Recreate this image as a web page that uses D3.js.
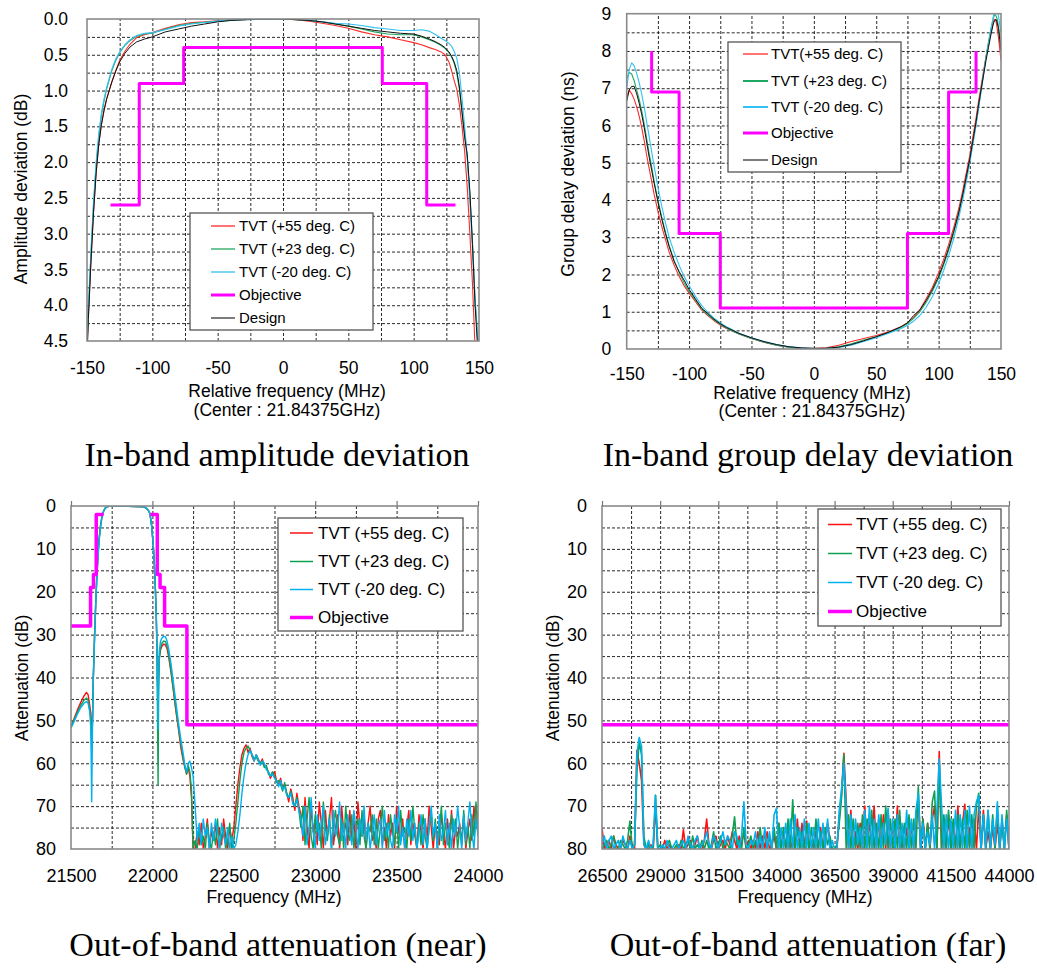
<!DOCTYPE html>
<html>
<head>
<meta charset="utf-8">
<script src="https://cdn.jsdelivr.net/npm/d3@7"></script>
<style>
  body { margin: 0; background: #fff; }
  svg { display: block; }
</style>
</head>
<body>
<svg id="fig" width="1037" height="968"></svg>
<script>
// ---------- In-band amplitude deviation (dB), relative frequency in MHz ----------
const ampFreq = [-150,-149,-147,-145,-143,-141,-139,-137,-135,-133,
  -131,-128,-125,-121,-117,-112,-106,-100,-90,-80,
  -70,-60,-50,-40,-30,-20,-10,0,10,20,
  30,40,50,60,70,80,90,100,106,112,
  117,121,124,127,129,131,133,135,137,139,
  141,143,145,147,149,150];
const amp55 = [4.7,4.2,3.4,2.7,2.15,1.75,1.48,1.28,1.12,1.0,
  0.88,0.72,0.58,0.45,0.35,0.26,0.22,0.19,0.13,0.08,
  0.05,0.04,0.025,0.015,0.01,0.0,0.0,0.0,0.01,0.03,
  0.06,0.09,0.13,0.18,0.22,0.25,0.29,0.33,0.36,0.4,
  0.43,0.46,0.5,0.6,0.72,0.86,0.98,1.2,1.5,1.85,
  2.35,3.0,3.7,4.6,5.5,5.8];
const amp23 = [4.6,4.1,3.3,2.6,2.05,1.65,1.35,1.15,0.98,0.85,
  0.72,0.58,0.47,0.37,0.3,0.24,0.21,0.2,0.14,0.09,
  0.06,0.045,0.03,0.02,0.01,0.005,0.0,0.0,0.01,0.02,
  0.04,0.07,0.1,0.14,0.18,0.21,0.22,0.22,0.25,0.29,
  0.33,0.37,0.41,0.47,0.53,0.62,0.76,0.98,1.3,1.6,
  1.95,2.45,3.1,3.9,4.45,4.8];
const amp20 = [4.6,4.05,3.25,2.55,2.0,1.6,1.32,1.12,0.96,0.83,
  0.7,0.56,0.46,0.36,0.29,0.23,0.2,0.19,0.15,0.1,
  0.07,0.05,0.03,0.015,0.01,0.005,0.0,0.0,0.0,0.02,
  0.04,0.06,0.07,0.09,0.12,0.14,0.16,0.16,0.15,0.17,
  0.22,0.27,0.3,0.34,0.38,0.45,0.55,0.75,1.1,1.5,
  1.9,2.55,3.2,3.95,4.5,4.8];
const ampDesign = [4.7,4.2,3.4,2.7,2.15,1.75,1.48,1.28,1.12,1.0,
  0.88,0.73,0.6,0.48,0.39,0.32,0.28,0.25,0.18,0.14,
  0.1,0.07,0.04,0.02,0.01,0.0,0.0,0.0,0.01,0.02,
  0.04,0.07,0.1,0.13,0.16,0.18,0.2,0.21,0.24,0.28,
  0.32,0.36,0.4,0.46,0.52,0.6,0.72,0.95,1.3,1.65,
  1.9,2.4,3.15,4.0,4.6,5.0];
const ampObjFreq = [-132,-110,-110,-76,-76,76,76,110,110,132];
const ampObjVal  = [2.6,2.6,0.9,0.9,0.4,0.4,0.9,0.9,2.6,2.6];

// ---------- In-band group delay deviation (ns) ----------
const gdFreq = [-150,-148,-146,-144,-142,-140,-138,-136,-134,-132,
  -130,-128,-125,-122,-119,-116,-112,-108,-104,-100,
  -95,-90,-85,-80,-75,-70,-60,-50,-40,-30,
  -20,-10,0,10,20,30,40,50,60,70,
  75,80,85,90,95,100,104,108,112,116,
  119,122,125,128,130,132,134,136,138,140,
  142,144,145,146,147,148,149,150];
const gd55 = [6.75,6.95,6.85,6.7,6.5,6.25,5.95,5.6,5.2,4.85,
  4.5,4.15,3.7,3.3,2.95,2.6,2.25,1.95,1.7,1.5,
  1.28,1.05,0.9,0.76,0.64,0.55,0.4,0.28,0.18,0.1,
  0.05,0.02,0.01,0.03,0.1,0.2,0.28,0.36,0.46,0.6,
  0.7,0.85,1.05,1.35,1.65,2.05,2.4,2.8,3.25,3.75,
  4.2,4.7,5.2,5.8,6.2,6.65,7.05,7.45,7.85,8.2,
  8.5,8.8,8.85,8.8,8.6,8.35,8.05,7.75];
const gd23 = [7.25,7.42,7.38,7.2,6.95,6.7,6.4,6.05,5.65,5.25,
  4.9,4.5,4.0,3.55,3.15,2.78,2.38,2.05,1.78,1.55,
  1.32,1.08,0.92,0.78,0.66,0.56,0.4,0.28,0.18,0.1,
  0.05,0.02,0.01,0.02,0.06,0.14,0.24,0.33,0.44,0.58,
  0.68,0.82,1.0,1.25,1.55,1.9,2.25,2.65,3.1,3.6,
  4.05,4.55,5.05,5.65,6.05,6.5,6.95,7.4,7.85,8.25,
  8.6,8.9,8.98,8.95,8.85,8.65,8.4,8.1];
const gd20 = [7.0,7.5,7.68,7.6,7.4,7.15,6.85,6.5,6.1,5.7,
  5.3,4.9,4.35,3.85,3.4,3.0,2.6,2.25,1.95,1.7,
  1.42,1.17,0.98,0.83,0.7,0.6,0.42,0.3,0.2,0.12,
  0.06,0.03,0.01,0.01,0.04,0.1,0.2,0.3,0.42,0.55,
  0.63,0.75,0.9,1.12,1.4,1.75,2.1,2.5,2.95,3.5,
  3.95,4.45,5.0,5.6,6.0,6.45,6.9,7.35,7.8,8.2,
  8.6,8.95,9.1,9.15,9.1,8.95,8.7,8.5];
const gdDesign = [6.65,6.95,7.05,7.05,6.85,6.6,6.3,5.95,5.55,5.15,
  4.8,4.45,3.95,3.5,3.1,2.75,2.35,2.08,1.85,1.6,
  1.35,1.1,0.95,0.8,0.68,0.58,0.42,0.3,0.2,0.12,
  0.06,0.03,0.02,0.02,0.05,0.12,0.22,0.33,0.45,0.6,
  0.7,0.9,1.05,1.3,1.6,1.95,2.3,2.7,3.15,3.65,
  4.1,4.6,5.1,5.7,6.1,6.55,6.95,7.35,7.75,8.1,
  8.45,8.75,8.82,8.85,8.75,8.6,8.3,8.0];
const gdObjFreq = [-130,-130,-108,-108,-75,-75,75,75,108,108,130,130];
const gdObjVal  = [8,6.9,6.9,3.1,3.1,1.1,1.1,3.1,3.1,6.9,6.9,8];

// ---------- Out-of-band attenuation, near band (dB vs MHz) ----------
const nearFreq = [21500,21520,21540,21560,21580,21595,21605,21615,21622,21627,
  21632,21637,21645,21652,21658,21665,21672,21680,21690,21700,
  21710,21720,21740,21800,21900,21950,21965,21975,21985,21995,
  22005,22012,22018,22024,22028,22032,22035,22038,22042,22050,
  22060,22070,22080,22090,22100,22115,22130,22145,22160,22175,
  22190,22200,22210,22220,22230,22240];
const near55 = [51.5,49.5,47.5,45.8,44.3,43.5,44.0,46.5,48.5,55.0,
  50.0,40.0,30.0,22.5,17.0,12.0,8.0,5.0,2.5,1.2,
  0.5,0.2,0.0,0.0,0.1,0.2,0.6,1.0,1.8,4.5,
  9.0,13.5,19.0,26.0,32.0,42.0,44.0,39.0,35.5,33.5,
  32.6,32.2,32.4,33.3,35.2,39.0,43.5,48.0,52.0,56.5,
  59.5,61.0,62.5,61.0,63.0,68.0];
const near23 = [51.5,49.8,48.0,46.5,45.3,44.8,45.3,47.5,49.5,57.0,
  50.0,40.0,30.0,22.5,17.0,12.0,8.0,5.0,2.5,1.2,
  0.5,0.2,0.0,0.0,0.1,0.2,0.6,1.0,1.8,4.5,
  9.0,13.5,19.0,26.0,34.0,52.0,65.0,45.0,36.0,33.0,
  31.9,31.5,31.6,32.6,34.5,38.5,43.0,47.5,51.5,55.5,
  59.0,61.0,62.5,60.5,62.0,66.0];
const near20 = [51.8,50.2,48.5,47.0,46.0,45.6,46.0,48.0,52.0,69.0,
  52.0,41.0,30.5,23.0,17.5,12.5,8.5,5.3,2.7,1.3,
  0.5,0.2,0.0,0.0,0.1,0.2,0.6,1.0,1.8,4.5,
  9.0,13.5,19.0,26.0,33.0,44.0,52.0,40.0,34.0,31.5,
  30.7,30.4,30.5,31.5,33.3,37.0,41.5,46.0,50.5,54.5,
  58.0,60.5,62.0,60.0,59.5,61.0];
// sampled trace above 22250 MHz, one value every 12.5 MHz
const nearTailStart = 22250, nearTailStep = 12.5;
const nearTail55 = [80,80,76,79,74,80,77,73,80,76,78,74,80,75,79,73,77,80,75,78,
  75,70,65,61,58,56.5,55.7,
  57.5,56.5,58.5,59.5,58,59,60,59,60.5,61,62,63.5,62.5,62,64,65,63.5,66,65,67,69,66,68,71,67,70,
  72,78,68,75,80,70,76,73,79,69, 74,80,71,77,73,68,79,75,72,80,
  70,76,74,79,71,78,73,80,69,75, 77,72,80,74,70,78,76,80,73,71,
  79,75,80,72,77,74,80,70,76,78, 73,80,75,71,79,74,77,80,72,76,
  80,73,78,70,75,80,74,77,79,72, 76,80,73,78,71,80,75,77,74,79,
  72,80,76,73,78,70,75,71];
const nearTail23 = [80,78,80,75,79,77,80,74,78,80,76,79,73,80,77,75,80,78,74,80,
  78,74,69,64,60,57.5,56.5,
  56,57,58,59,58.5,59.5,60,59.5,61,60.5,62.5,63,62,63,64.5,64,65,66.5,64.5,67,68,66.5,69,70,68,71,
  75,70,79,73,68,77,80,72,76,74, 80,69,75,78,72,80,74,71,77,79,
  73,80,70,76,78,72,80,75,73,79, 71,77,80,74,76,72,79,73,80,75,
  70,78,74,80,72,76,79,73,80,71, 77,75,80,73,78,70,76,80,74,79,
  72,77,80,75,71,78,73,80,76,70, 79,74,77,80,72,76,73,80,75,78,
  71,79,74,80,72,77,69,76];
const nearTail20 = [63,70,78,74,79,73,77,75,80,74,78,73,76,80,74,77,79,75,80,77,
  80,79,76,72,67,63,60,
  58,57,58,59.5,58,59,60.5,59.5,60,61.5,62,63,62.5,63.5,64,65.5,64,66,65.5,67.5,68,67,69.5,70,68.5,71,
  73,77,70,79,75,68,76,80,72,78, 74,70,79,76,73,80,71,77,75,69,
  78,74,80,72,76,79,71,75,80,73, 77,70,78,74,80,76,72,79,75,73,
  80,71,77,74,78,80,72,76,70,79, 75,80,73,77,71,78,74,80,76,72,
  79,73,80,75,70,77,74,80,72,78, 76,71,79,74,80,73,77,70,75,80,
  72,78,74,69,76,80,73,77];
const nearObjLow  = [[21500,28],[21620,28],[21620,19],[21638,19],[21638,16],[21655,16],[21655,2],[21700,2]];
const nearObjHigh = [[21988,2],[22030,2],[22030,16],[22047,16],[22047,19],[22075,19],[22075,28],
  [22212,28],[22212,51],[24000,51]];

// ---------- Out-of-band attenuation, far band (one value every 100 MHz) ----------
const farStart = 26500, farStep = 100;
const far20 = [79,77,80,78,77,80,79,78,80,77, 79,80,78,80,79, 58,54,56,79, 80,78,80,79, 67.5,80,
  80,79,80,78,80,80,79,78,80,79, 78,80,77,79,80,78,77,80,79,78,
  76,79,80,77,78,80,78,76,79,77, 78,80,76,77,80,77,69,79,80,78,
  79,76,80,77,80,75,80,76,80,72, 70.5,80,75,80,74,80,73,80,72,80,
  75,80,73,80,74,80,75,80,73,80, 74,80,73,80,78,80,80,71,66,60,
  70,80,72,80,73,79,75,80,71,80, 70,80,73,80,72,80,74,79,70.5,80,
  73,80,72,80,74,80,71,80,73,80, 71,67,80,74,80,76,79,72,80,71,
  59,70,80,72,80,73,80,71,80,72, 80,71,80,70,80,72,69,67.5,80,72,
  80,71,80,73,79,69,80,72,80,73,80];
const far23 = [80,79,78,80,79,77,80,80,78,79, 80,78,73.5,80,79, 62,55,58,77, 80,79,80,80, 67.5,80,
  79,80,80,79,78,80,80,79,80,78, 80,79,78,80,77,80,79,80,78,80,
  78,80,79,76,80,79,77,80,78,79, 80,77,72.5,79,78,80,75,80,79,77,
  80,78,80,75,80,76,80,77,80,75, 80,74,80,75,80,73,80,68.5,80,75,
  80,76,80,74,80,75,80,73,80,76, 80,75,79,77,80,80,79,74,68,58,
  80,72,80,73,80,74,80,72,80,73, 80,71,80,74,80,72,80,70,80,73,
  80,73,80,71,80,74,80,72,80,73, 80,65.5,80,73,80,74,80,69,66.5,80,
  60,80,72,80,71,80,73,80,72,80, 73,80,71,80,72,80,70,67,80,72,
  80,71,80,72,80,70,80,74,80,71,80];
const far55 = [75,80,79,78,80,77,79,80,80,78, 79,80,77,79,80, 57,60,64,79, 80,80,79,80, 70,80,
  80,80,78,80,79,80,80,80,79,80, 75.5,80,79,78,80,79,77,80,80,78,
  73,79,80,78,77,80,79,78,80,77, 79,76,78,80,77,79,76,80,78,80,
  78,80,76,80,77,80,76,80,79,77, 80,74,80,76,80,75,80,78,80,73,
  80,74,80,73.5,80,78,80,76,80,75, 80,79,74,78,80,80,80,73,67,57.7,
  69,80,71,80,76,80,74,80,70,80, 73,80,70,80,73,80,72,80,71,80,
  74,80,70,80,77,80,75,80,74,80, 72,68.5,80,73,80,74,80,73,70,80,
  57.3,80,73,80,72,80,74,80,70,80, 74,69.6,80,75,80,73,80,70,80,71,
  80,76,80,75,80,74,80,73,80,72,80];
const farObj = [[26500,51],[44000,51]];

// ---------- tick values ----------
const ampTicks  = [-150,-100,-50,0,50,100,150];
const ampYTicks = [0,0.5,1,1.5,2,2.5,3,3.5,4,4.5];
const gdYTicks  = [0,1,2,3,4,5,6,7,8,9];
const nearTicks = [21500,22000,22500,23000,23500,24000];
const farTicks  = [26500,29000,31500,34000,36500,39000,41500,44000];
const attTicks  = [0,10,20,30,40,50,60,70,80];

// ---------- drawing ----------
const SANS = "Arial, 'Liberation Sans', sans-serif";
const SERIF = "'Times New Roman', 'Liberation Serif', serif";
const svg = d3.select("#fig");
svg.append("rect").attr("width", 1037).attr("height", 968).attr("fill", "#fff");

const COL_TOP = { r: "#ff2a2a", g: "#1fa862", c: "#33c0f2", k: "#111", m: "#ff00ff" };
const COL_BOT = { r: "#ff1010", g: "#0ca050", c: "#00b0f0", m: "#ff00ff" };

const plainInt = d => String(d);   // hyphen-minus, as printed on the axes

function zip(xs, ys) { return xs.map((v, i) => [v, ys[i]]); }
function sampled(start, step, ys) { return ys.map((v, i) => [start + i * step, v]); }

let clipId = 0;
function panel(p) {
  const b = p.box;
  const x = d3.scaleLinear().domain(p.xDomain).range([b.left, b.right]);
  const y = d3.scaleLinear().domain(p.yDomain).range([b.top, b.bottom]);
  const w = b.right - b.left, h = b.bottom - b.top;
  const g = svg.append("g");

  // dashed grid
  const vg = g.append("g").attr("transform", `translate(0,${b.bottom})`)
    .call(d3.axisBottom(x).tickValues(p.xGrid).tickSize(-h).tickFormat(""));
  vg.select(".domain").remove();
  const hg = g.append("g").attr("transform", `translate(${b.left},0)`)
    .call(d3.axisLeft(y).tickValues(p.yGrid).tickSize(-w).tickFormat(""));
  hg.select(".domain").remove();
  g.selectAll(".tick line").attr("stroke", "#111").attr("stroke-width", 0.9)
    .attr("stroke-dasharray", "3,2");

  // data
  const id = "clip" + (clipId++);
  g.append("clipPath").attr("id", id).append("rect")
    .attr("x", b.left).attr("y", b.top).attr("width", w).attr("height", h);
  const data = g.append("g").attr("clip-path", `url(#${id})`);
  const line = d3.line().x(d => x(d[0])).y(d => y(d[1]));
  p.series.forEach(s => {
    (s.parts || [s.pts]).forEach(pts => {
      data.append("path").attr("d", line(pts)).attr("fill", "none")
        .attr("stroke", s.color).attr("stroke-width", s.width)
        .attr("stroke-linejoin", "round");
    });
  });

  // frame
  g.append("rect").attr("x", b.left).attr("y", b.top).attr("width", w).attr("height", h)
    .attr("fill", "none").attr("stroke", "#8a8a8a").attr("stroke-width", 1.6);

  if (p.topTicks) {
    const tt = g.append("g").attr("transform", `translate(0,${b.top})`)
      .call(d3.axisTop(x).tickValues(p.xTicks).tickSize(5).tickFormat(""));
    tt.select(".domain").remove();
    tt.selectAll("line").attr("stroke", "#777").attr("stroke-width", 1.2);
  }

  // tick labels
  const xa = g.append("g").attr("transform", `translate(0,${b.bottom})`)
    .call(d3.axisBottom(x).tickValues(p.xTicks).tickSize(0).tickFormat(plainInt));
  xa.select(".domain").remove();
  xa.selectAll("text").attr("y", p.xLabelOffset).attr("dy", 0)
    .attr("font-size", p.tickFont).attr("font-family", SANS).attr("fill", "#000");

  const ya = g.append("g").attr("transform", `translate(${b.left},0)`)
    .call(d3.axisLeft(y).tickValues(p.yTicks).tickSize(0).tickPadding(p.yPad).tickFormat(p.yFormat));
  ya.select(".domain").remove();
  ya.selectAll("text").attr("font-size", p.tickFont).attr("font-family", SANS).attr("fill", "#000");

  // axis titles
  p.xTitle.forEach(t => {
    g.append("text").attr("x", t.x).attr("y", t.y).attr("text-anchor", "middle")
      .attr("font-family", SANS).attr("font-size", t.size).text(t.text);
  });
  g.append("text").attr("transform", `translate(${p.yTitle.x},${p.yTitle.y}) rotate(-90)`)
    .attr("text-anchor", "middle").attr("dy", "0.35em")
    .attr("font-family", SANS).attr("font-size", p.yTitle.size).text(p.yTitle.text);

  // legend
  const L = p.legend;
  const lg = g.append("g");
  lg.append("rect").attr("x", L.x0).attr("y", L.y0).attr("width", L.x1 - L.x0).attr("height", L.y1 - L.y0)
    .attr("fill", "#fff").attr("stroke", "#555").attr("stroke-width", 1.3);
  L.items.forEach((it, i) => {
    const ry = L.rows[i];
    lg.append("line").attr("x1", L.lx0).attr("x2", L.lx1).attr("y1", ry).attr("y2", ry)
      .attr("stroke", it.color).attr("stroke-width", it.width);
    lg.append("text").attr("x", L.tx).attr("y", ry).attr("dy", "0.35em")
      .attr("font-family", SANS).attr("font-size", L.font).text(it.label);
  });

  // caption
  svg.append("text").attr("x", p.caption.x).attr("y", p.caption.y).attr("text-anchor", "middle")
    .attr("font-family", SERIF).attr("font-size", 34).text(p.caption.text);
}

const tvtLabels = ["TVT (+55 deg. C)", "TVT (+23 deg. C)", "TVT (-20 deg. C)"];

// In-band amplitude deviation
panel({
  box: { left: 87, right: 479, top: 19, bottom: 341 },
  xDomain: [-150, 150], yDomain: [0, 4.5],
  xGrid: d3.range(-125, 150, 25), yGrid: d3.range(0.25, 4.5, 0.25),
  xTicks: ampTicks, yTicks: ampYTicks, yFormat: d3.format(".1f"),
  tickFont: 17.5, xLabelOffset: 33, yPad: 19,
  xTitle: [{ text: "Relative frequency (MHz)", x: 287, y: 397, size: 17.5 },
           { text: "(Center : 21.84375GHz)", x: 287, y: 416, size: 17.5 }],
  yTitle: { text: "Amplitude deviation (dB)", x: 21, y: 189, size: 17.5 },
  series: [
    { pts: zip(ampFreq, amp55), color: COL_TOP.r, width: 1.1 },
    { pts: zip(ampFreq, amp23), color: COL_TOP.g, width: 1.1 },
    { pts: zip(ampFreq, amp20), color: COL_TOP.c, width: 1.1 },
    { pts: zip(ampFreq, ampDesign), color: COL_TOP.k, width: 1.0 },
    { pts: zip(ampObjFreq, ampObjVal), color: COL_TOP.m, width: 3 }
  ],
  legend: { x0: 190, y0: 213, x1: 373, y1: 330, lx0: 211, lx1: 235, tx: 239, font: 15,
    rows: [226, 249, 272, 295, 318],
    items: [
      { label: tvtLabels[0], color: COL_TOP.r, width: 1.3 },
      { label: tvtLabels[1], color: COL_TOP.g, width: 1.3 },
      { label: tvtLabels[2], color: COL_TOP.c, width: 1.3 },
      { label: "Objective", color: COL_TOP.m, width: 3 },
      { label: "Design", color: COL_TOP.k, width: 1.1 }
    ] },
  caption: { text: "In-band amplitude deviation", x: 277, y: 466 }
});

// In-band group delay deviation
panel({
  box: { left: 626.7, right: 1001, top: 13.7, bottom: 349 },
  xDomain: [-150, 150], yDomain: [9, 0],
  xGrid: d3.range(-125, 150, 25), yGrid: d3.range(0.5, 9, 0.5),
  xTicks: ampTicks, yTicks: gdYTicks, yFormat: d3.format("d"),
  tickFont: 17.5, xLabelOffset: 31, yPad: 15.5,
  xTitle: [{ text: "Relative frequency (MHz)", x: 812, y: 399, size: 17.5 },
           { text: "(Center : 21.84375GHz)", x: 812, y: 417, size: 17.5 }],
  yTitle: { text: "Group delay deviation (ns)", x: 568, y: 174, size: 17.5 },
  series: [
    { pts: zip(gdFreq, gd55), color: COL_TOP.r, width: 1.1 },
    { pts: zip(gdFreq, gd23), color: COL_TOP.g, width: 1.1 },
    { pts: zip(gdFreq, gd20), color: COL_TOP.c, width: 1.1 },
    { pts: zip(gdFreq, gdDesign), color: COL_TOP.k, width: 1.0 },
    { pts: zip(gdObjFreq, gdObjVal), color: COL_TOP.m, width: 3 }
  ],
  legend: { x0: 728, y0: 42, x1: 901, y1: 172, lx0: 743, lx1: 768, tx: 771, font: 15,
    rows: [54, 81, 107, 133, 160],
    items: [
      { label: "TVT(+55 deg. C)", color: COL_TOP.r, width: 1.3 },
      { label: tvtLabels[1], color: COL_TOP.g, width: 2 },
      { label: tvtLabels[2], color: COL_TOP.c, width: 2 },
      { label: "Objective", color: COL_TOP.m, width: 3 },
      { label: "Design", color: COL_TOP.k, width: 1.1 }
    ] },
  caption: { text: "In-band group delay deviation", x: 808, y: 466 }
});

// Out-of-band attenuation (near)
panel({
  box: { left: 71, right: 478, top: 506, bottom: 849 },
  xDomain: [21500, 24000], yDomain: [0, 80],
  xGrid: d3.range(21750, 24000, 250), yGrid: d3.range(5, 80, 5),
  xTicks: nearTicks, yTicks: attTicks, yFormat: d3.format("d"), topTicks: true,
  tickFont: 18, xLabelOffset: 33, yPad: 15,
  xTitle: [{ text: "Frequency (MHz)", x: 274, y: 903, size: 17.5 }],
  yTitle: { text: "Attenuation (dB)", x: 22, y: 678, size: 17.5 },
  series: [
    { pts: zip(nearFreq, near55).concat(sampled(nearTailStart, nearTailStep, nearTail55)), color: COL_BOT.r, width: 1.4 },
    { pts: zip(nearFreq, near23).concat(sampled(nearTailStart, nearTailStep, nearTail23)), color: COL_BOT.g, width: 1.4 },
    { pts: zip(nearFreq, near20).concat(sampled(nearTailStart, nearTailStep, nearTail20)), color: COL_BOT.c, width: 1.4 },
    { parts: [nearObjLow, nearObjHigh], color: COL_BOT.m, width: 3.5 }
  ],
  legend: { x0: 278, y0: 518, x1: 463, y1: 631, lx0: 290, lx1: 313, tx: 318, font: 17,
    rows: [533, 561.5, 589.5, 617.5],
    items: [
      { label: tvtLabels[0], color: COL_BOT.r, width: 1.5 },
      { label: tvtLabels[1], color: COL_BOT.g, width: 1.5 },
      { label: tvtLabels[2], color: COL_BOT.c, width: 1.5 },
      { label: "Objective", color: COL_BOT.m, width: 3.5 }
    ] },
  caption: { text: "Out-of-band attenuation (near)", x: 278, y: 956 }
});

// Out-of-band attenuation (far)
panel({
  box: { left: 602, right: 1009, top: 506, bottom: 849 },
  xDomain: [26500, 44000], yDomain: [0, 80],
  xGrid: d3.range(27750, 44000, 1250), yGrid: d3.range(5, 80, 5),
  xTicks: farTicks, yTicks: attTicks, yFormat: d3.format("d"), topTicks: true,
  tickFont: 18, xLabelOffset: 33, yPad: 15,
  xTitle: [{ text: "Frequency (MHz)", x: 805, y: 903, size: 17.5 }],
  yTitle: { text: "Attenuation (dB)", x: 553, y: 678, size: 17.5 },
  series: [
    { pts: sampled(farStart, farStep, far55), color: COL_BOT.r, width: 1.6 },
    { pts: sampled(farStart, farStep, far23), color: COL_BOT.g, width: 1.6 },
    { pts: sampled(farStart, farStep, far20), color: COL_BOT.c, width: 1.6 },
    { pts: farObj, color: COL_BOT.m, width: 3.5 }
  ],
  legend: { x0: 818, y0: 509, x1: 1001, y1: 626, lx0: 828, lx1: 852, tx: 856, font: 17,
    rows: [524.5, 553.5, 582.5, 611.5],
    items: [
      { label: tvtLabels[0], color: COL_BOT.r, width: 1.5 },
      { label: tvtLabels[1], color: COL_BOT.g, width: 1.5 },
      { label: tvtLabels[2], color: COL_BOT.c, width: 1.5 },
      { label: "Objective", color: COL_BOT.m, width: 3.5 }
    ] },
  caption: { text: "Out-of-band attenuation (far)", x: 808, y: 956 }
});
</script>
</body>
</html>
